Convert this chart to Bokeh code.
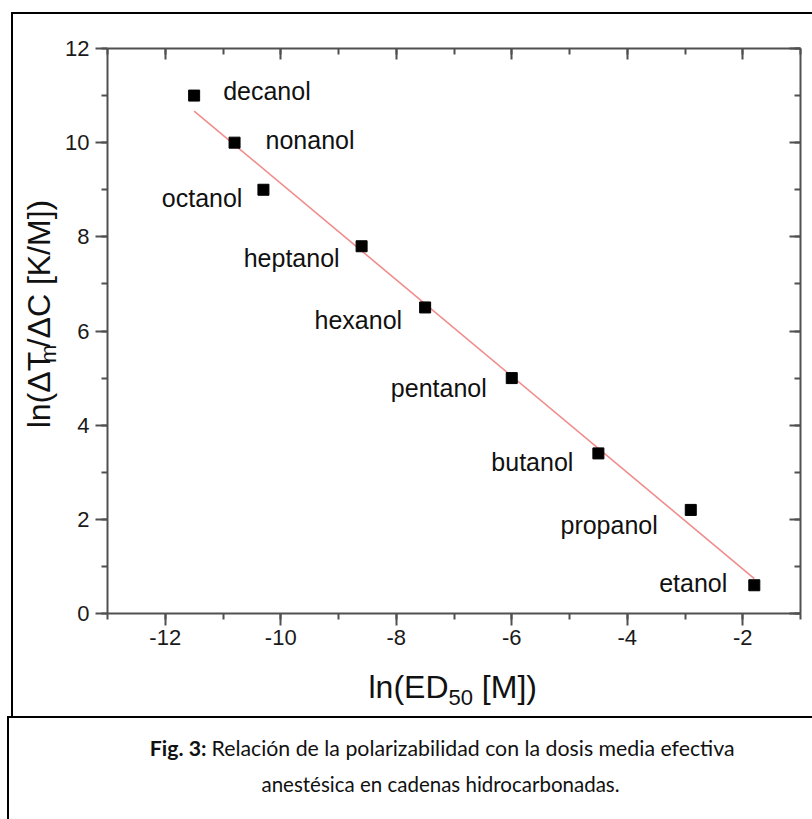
import numpy as np
from bokeh.plotting import figure
from bokeh.layouts import column, row
from bokeh.models import (Range1d, LinearAxis, FixedTicker, ColumnDataSource, InlineStyleSheet)
from bokeh.core.properties import value
from bokeh.embed import file_html
from bokeh.resources import INLINE

# ---------------- data ----------------
alcohols = ["decanol", "nonanol", "octanol", "heptanol", "hexanol",
            "pentanol", "butanol", "propanol", "etanol"]
ln_ed50 = [-11.5, -10.8, -10.3, -8.6, -7.5, -6.0, -4.5, -2.9, -1.8]
ln_dtm_dc = [11.0, 10.0, 9.0, 7.8, 6.5, 5.0, 3.4, 2.2, 0.6]
x_ticks = [-12, -10, -8, -6, -4, -2]
y_ticks = [0, 2, 4, 6, 8, 10, 12]
caption_bold = "Fig. 3:"
caption_line1 = "Relación de la polarizabilidad con la dosis media efectiva"
caption_line2 = "anestésica en cadenas hidrocarbonadas."

# label placement (screen offsets of the text baseline, px)
lab_dx = [29, 31, -21, -22, -23, -25, -25, -33, -27]
lab_dy = [4, 6, 17, 20, 21, 19, 17, 24, 6]

FONT = "Liberation Sans"
BSH = 0.35          # observed shift of the rendered baseline (in em) to compensate
W, H = 812, 819
TOP_H = 662        # height of the upper row (y title + chart)
YT_W = 62          # width of the y-title strip
FL, FT, FB = 107, 48, 613   # frame left / top / bottom in page pixels

# ---------------- main chart ----------------
p = figure(width=W - YT_W, height=TOP_H, x_range=Range1d(-13, -1), y_range=Range1d(0, 12),
           output_backend="svg", toolbar_location=None,
           min_border_left=FL - YT_W, min_border_right=12, min_border_top=FT,
           min_border_bottom=TOP_H - FB,
           outline_line_color=None, background_fill_color="white", border_fill_color="white")
p.grid.visible = False

xminor = list(np.arange(-13, 0, 1.0))
yminor = list(np.arange(0, 13, 1.0))
xt = FixedTicker(ticks=x_ticks, minor_ticks=xminor)
yt = FixedTicker(ticks=y_ticks, minor_ticks=yminor)

AX_COL = "#505050"

def style_axis(ax, ticker, outward, labels):
    ax.ticker = ticker
    ax.axis_line_color = AX_COL
    ax.axis_line_width = 2
    ax.major_tick_line_color = AX_COL
    ax.minor_tick_line_color = AX_COL
    ax.major_tick_line_width = 2
    ax.minor_tick_line_width = 2
    if outward:
        ax.major_tick_out, ax.major_tick_in = 12, 0
        ax.minor_tick_out, ax.minor_tick_in = 6, 0
    else:
        ax.major_tick_out, ax.major_tick_in = 0, 11
        ax.minor_tick_out, ax.minor_tick_in = 0, 6
    if labels:
        ax.major_label_text_font = FONT
        ax.major_label_text_font_size = "22px"
        ax.major_label_text_color = "#1a1a1a"
        ax.major_label_overrides = {t: str(t) for t in ticker.ticks}
    else:
        ax.major_label_text_alpha = 0
        ax.major_label_text_font_size = "1px"
        ax.major_label_standoff = 0
    ax.axis_label = None

style_axis(p.xaxis[0], xt, True, True)
p.xaxis[0].major_label_standoff = 4
style_axis(p.yaxis[0], yt, True, True)
p.yaxis[0].major_label_standoff = 6

top_ax = LinearAxis()
style_axis(top_ax, xt, False, False)
p.add_layout(top_ax, "above")
right_ax = LinearAxis()
style_axis(right_ax, yt, False, False)
p.add_layout(right_ax, "right")

# fit line (least squares from the data)
slope, icpt = np.polyfit(ln_ed50, ln_dtm_dc, 1)
fx = np.array([min(ln_ed50), max(ln_ed50)])
p.line(fx, slope * fx + icpt, line_color="#f08c8c", line_width=1.6)

# points
p.scatter(ln_ed50, ln_dtm_dc, marker="square", size=11, fill_color="black", line_color="black")

# point labels
LSZ = 25
left_idx = [i for i in range(len(alcohols)) if lab_dx[i] > 0]
right_idx = [i for i in range(len(alcohols)) if lab_dx[i] < 0]
for idx, align in ((left_idx, "left"), (right_idx, "right")):
    src = ColumnDataSource(dict(x=[ln_ed50[i] for i in idx], y=[ln_dtm_dc[i] for i in idx],
                                t=[alcohols[i] for i in idx], dx=[lab_dx[i] for i in idx],
                                dy=[lab_dy[i] - BSH * LSZ for i in idx]))
    p.text("x", "y", text="t", x_offset="dx", y_offset="dy", source=src,
           text_align=align, text_baseline="alphabetic", text_font=value(FONT),
           text_font_size=f"{LSZ}px", text_color="#111111")

# ---------------- text strips (pixel-space figures) ----------------
def pixel_fig(w, h):
    f = figure(width=w, height=h, x_range=Range1d(0, w), y_range=Range1d(h, 0),
               x_axis_type=None, y_axis_type=None, min_border=0, title=None,
               output_backend="svg", toolbar_location=None, outline_line_color=None,
               background_fill_color="white", border_fill_color="white")
    f.grid.visible = False
    return f

def txt(f, x, y, t, size, angle=0.0, bold=False, font=FONT, align="left"):
    # (x, y) is the intended baseline anchor in page pixels
    if angle:
        x = x - BSH * size
    else:
        y = y - BSH * size
    f.text([x], [y], text=[t], angle=angle, text_font=value(font), text_font_size=f"{size}px",
           text_align=align, text_baseline="alphabetic", text_color="#111111",
           text_font_style="bold" if bold else "normal")

# y title: ln(ΔTm/ΔC [K/M]) rotated
yfig = pixel_fig(YT_W, TOP_H)
yb_x, Y0 = 50, 445
txt(yfig, yb_x, Y0, "ln(ΔT", 32, angle=np.pi / 2)
Y1 = Y0 - 2.39 * 32
txt(yfig, yb_x + 6, Y1, "m", 22, angle=np.pi / 2)
Y2 = Y1 - 0.833 * 22
txt(yfig, yb_x, Y2, "/ΔC [K/M])", 32, angle=np.pi / 2)

# bottom strip: x title + caption
BH = H - TOP_H
bfig = pixel_fig(W, BH)
xb = 698 - TOP_H
X0 = 368
txt(bfig, X0, xb, "ln(ED", 32)
txt(bfig, X0 + 2.5 * 32, xb + 7, "50", 22)
txt(bfig, X0 + 2.5 * 32 + 1.112 * 22 + 0.278 * 32, xb, "[M])", 32)

CF = "Lato"
split = 206
txt(bfig, split, 755 - TOP_H, caption_bold, 21.3, bold=True, font=CF, align="right")
txt(bfig, split + 5, 755 - TOP_H, caption_line1, 21.3, font=CF)
txt(bfig, 440, 791 - TOP_H, caption_line2, 20.5, font=CF, align="center")

root = column(row(yfig, p), bfig)

css = """
:host { position: relative; }
:host::before { content: ""; position: absolute; left: 11px; top: 12px; width: 801px; height: 706px;
  border-left: 2px solid #000; border-top: 2px solid #000; border-bottom: 2px solid #000;
  box-sizing: border-box; pointer-events: none; z-index: 100; }
:host::after { content: ""; position: absolute; left: 7px; top: 716px; width: 805px; height: 103px;
  border-left: 2px solid #000; border-top: 2px solid #000;
  box-sizing: border-box; pointer-events: none; z-index: 100; }
"""
root.stylesheets = [InlineStyleSheet(css=css)]

open("out.html", "w").write(file_html(root, INLINE))
